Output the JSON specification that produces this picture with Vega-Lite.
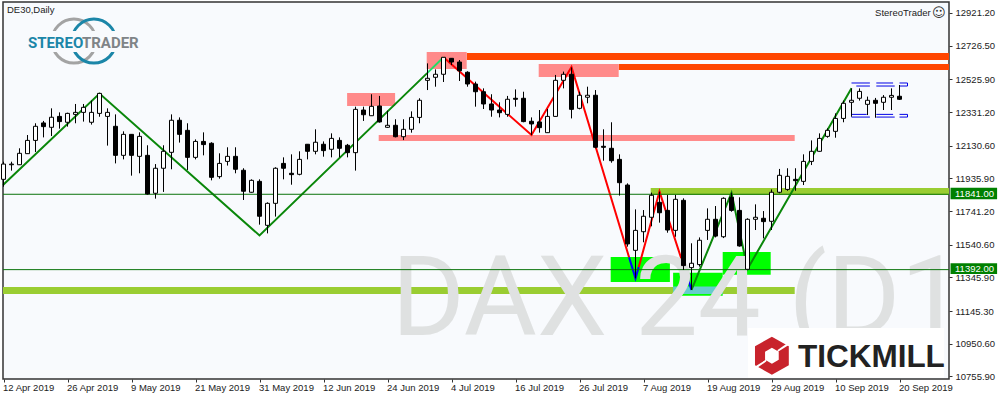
{"$schema":"https://vega.github.io/schema/vega-lite/v6.json","width":946,"height":377,"autosize":"none","padding":{"left":3,"top":2,"right":51,"bottom":21},"background":"#ffffff","view":{"fill":"#f8fafd","stroke":"#333333","strokeWidth":1.5},"config":{"font":"Liberation Sans"},
"datasets":{
"candles":[{"bar":0,"open":11930,"high":12035,"low":11886,"close":12021},{"bar":1,"open":12017,"high":12035,"low":11982,"close":12021},{"bar":2,"open":12017,"high":12115,"low":12015,"close":12085},{"bar":3,"open":12083,"high":12194,"low":12081,"close":12162},{"bar":4,"open":12162,"high":12264,"low":12093,"close":12246},{"bar":5,"open":12266,"high":12278,"low":12180,"close":12244},{"bar":6,"open":12240,"high":12353,"low":12188,"close":12300},{"bar":7,"open":12305,"high":12329,"low":12232,"close":12274},{"bar":8,"open":12270,"high":12327,"low":12244,"close":12323},{"bar":9,"open":12317,"high":12379,"low":12264,"close":12329},{"bar":10,"open":12329,"high":12379,"low":12274,"close":12359},{"bar":11,"open":12270,"high":12399,"low":12256,"close":12329},{"bar":12,"open":12323,"high":12442,"low":12303,"close":12442},{"bar":13,"open":12305,"high":12353,"low":12131,"close":12329},{"bar":14,"open":12246,"high":12317,"low":12025,"close":12073},{"bar":15,"open":12073,"high":12216,"low":12049,"close":12198},{"bar":16,"open":12198,"high":12198,"low":11952,"close":12073},{"bar":17,"open":12067,"high":12210,"low":11966,"close":12186},{"bar":18,"open":12073,"high":12133,"low":11839,"close":11843},{"bar":19,"open":11847,"high":12021,"low":11815,"close":11996},{"bar":20,"open":11996,"high":12133,"low":11855,"close":12097},{"bar":21,"open":12091,"high":12317,"low":11990,"close":12282},{"bar":22,"open":12282,"high":12299,"low":12149,"close":12198},{"bar":23,"open":12222,"high":12264,"low":11986,"close":12061},{"bar":24,"open":12061,"high":12168,"low":12049,"close":12156},{"bar":25,"open":12156,"high":12210,"low":12073,"close":12137},{"bar":26,"open":12145,"high":12151,"low":11924,"close":11942},{"bar":27,"open":11946,"high":12085,"low":11934,"close":12025},{"bar":28,"open":12037,"high":12121,"low":12012,"close":12067},{"bar":29,"open":12067,"high":12121,"low":11966,"close":11990},{"bar":30,"open":11984,"high":11996,"low":11807,"close":11859},{"bar":31,"open":11853,"high":11930,"low":11851,"close":11924},{"bar":32,"open":11918,"high":11930,"low":11660,"close":11710},{"bar":33,"open":11656,"high":11793,"low":11608,"close":11787},{"bar":34,"open":11787,"high":12002,"low":11708,"close":11996},{"bar":35,"open":12025,"high":12061,"low":11930,"close":11996},{"bar":36,"open":11966,"high":12079,"low":11898,"close":11958},{"bar":37,"open":11960,"high":12097,"low":11954,"close":12049},{"bar":38,"open":12139,"high":12139,"low":12049,"close":12097},{"bar":39,"open":12097,"high":12228,"low":12079,"close":12151},{"bar":40,"open":12139,"high":12156,"low":12065,"close":12101},{"bar":41,"open":12109,"high":12204,"low":12061,"close":12174},{"bar":42,"open":12162,"high":12180,"low":12061,"close":12115},{"bar":43,"open":12133,"high":12141,"low":12061,"close":12089},{"bar":44,"open":12089,"high":12363,"low":11982,"close":12347},{"bar":45,"open":12343,"high":12363,"low":12278,"close":12315},{"bar":46,"open":12309,"high":12437,"low":12309,"close":12365},{"bar":47,"open":12367,"high":12427,"low":12268,"close":12272},{"bar":48,"open":12240,"high":12339,"low":12236,"close":12252},{"bar":49,"open":12252,"high":12288,"low":12180,"close":12184},{"bar":50,"open":12184,"high":12288,"low":12164,"close":12228},{"bar":51,"open":12228,"high":12335,"low":12208,"close":12299},{"bar":52,"open":12299,"high":12413,"low":12264,"close":12401},{"bar":53,"open":12520,"high":12621,"low":12462,"close":12532},{"bar":54,"open":12538,"high":12585,"low":12482,"close":12556},{"bar":55,"open":12556,"high":12657,"low":12510,"close":12657},{"bar":56,"open":12651,"high":12651,"low":12611,"close":12629},{"bar":57,"open":12629,"high":12641,"low":12516,"close":12577},{"bar":58,"open":12568,"high":12574,"low":12482,"close":12498},{"bar":59,"open":12498,"high":12512,"low":12363,"close":12452},{"bar":60,"open":12452,"high":12472,"low":12349,"close":12379},{"bar":61,"open":12379,"high":12437,"low":12303,"close":12343},{"bar":62,"open":12343,"high":12389,"low":12299,"close":12327},{"bar":63,"open":12317,"high":12427,"low":12303,"close":12407},{"bar":64,"open":12413,"high":12466,"low":12363,"close":12407},{"bar":65,"open":12413,"high":12452,"low":12270,"close":12274},{"bar":66,"open":12276,"high":12299,"low":12194,"close":12260},{"bar":67,"open":12272,"high":12343,"low":12208,"close":12238},{"bar":68,"open":12208,"high":12349,"low":12208,"close":12305},{"bar":69,"open":12305,"high":12552,"low":12303,"close":12520},{"bar":70,"open":12520,"high":12572,"low":12472,"close":12556},{"bar":71,"open":12556,"high":12597,"low":12293,"close":12347},{"bar":72,"open":12353,"high":12452,"low":12347,"close":12431},{"bar":73,"open":12419,"high":12482,"low":12383,"close":12431},{"bar":74,"open":12431,"high":12462,"low":12115,"close":12121},{"bar":75,"open":12127,"high":12228,"low":12041,"close":12121},{"bar":76,"open":12115,"high":12270,"low":12029,"close":12041},{"bar":77,"open":12049,"high":12079,"low":11833,"close":11910},{"bar":78,"open":11896,"high":11906,"low":11529,"close":11545},{"bar":79,"open":11507,"high":11751,"low":11340,"close":11626},{"bar":80,"open":11618,"high":11747,"low":11555,"close":11710},{"bar":81,"open":11704,"high":11851,"low":11650,"close":11835},{"bar":82,"open":11793,"high":11857,"low":11672,"close":11731},{"bar":83,"open":11745,"high":11837,"low":11612,"close":11628},{"bar":84,"open":11626,"high":11837,"low":11588,"close":11811},{"bar":85,"open":11805,"high":11817,"low":11390,"close":11416},{"bar":86,"open":11404,"high":11549,"low":11271,"close":11430},{"bar":87,"open":11422,"high":11584,"low":11410,"close":11567},{"bar":88,"open":11626,"high":11757,"low":11569,"close":11692},{"bar":89,"open":11692,"high":11771,"low":11584,"close":11592},{"bar":90,"open":11588,"high":11823,"low":11580,"close":11817},{"bar":91,"open":11823,"high":11851,"low":11737,"close":11745},{"bar":92,"open":11745,"high":11823,"low":11529,"close":11533},{"bar":93,"open":11394,"high":11698,"low":11394,"close":11692},{"bar":94,"open":11692,"high":11781,"low":11628,"close":11704},{"bar":95,"open":11698,"high":11741,"low":11578,"close":11678},{"bar":96,"open":11680,"high":11870,"low":11628,"close":11853},{"bar":97,"open":11853,"high":11992,"low":11847,"close":11954},{"bar":98,"open":11870,"high":11996,"low":11862,"close":11948},{"bar":99,"open":11930,"high":11996,"low":11862,"close":11922},{"bar":100,"open":11918,"high":12079,"low":11896,"close":12037},{"bar":101,"open":12037,"high":12162,"low":12015,"close":12097},{"bar":102,"open":12097,"high":12204,"low":12095,"close":12174},{"bar":103,"open":12186,"high":12234,"low":12178,"close":12222},{"bar":104,"open":12216,"high":12323,"low":12178,"close":12293},{"bar":105,"open":12293,"high":12399,"low":12270,"close":12383},{"bar":106,"open":12389,"high":12472,"low":12303,"close":12401},{"bar":107,"open":12413,"high":12472,"low":12399,"close":12454},{"bar":108,"open":12377,"high":12423,"low":12313,"close":12401},{"bar":109,"open":12401,"high":12415,"low":12297,"close":12383},{"bar":110,"open":12389,"high":12432,"low":12343,"close":12419},{"bar":111,"open":12419,"high":12472,"low":12343,"close":12430},{"bar":112,"open":12425,"high":12492,"low":12403,"close":12407}],
"zones":[{"kind":"level","bar":-0.0625,"bar2":98.9,"p":11289,"p2":11247},{"kind":"level","bar":80.9,"bar2":118.1875,"p":11878,"p2":11837},{"kind":"resistance","bar":57.9,"bar2":118.1875,"p":12683,"p2":12641},{"kind":"resistance","bar":76.9,"bar2":118.1875,"p":12617,"p2":12581},{"kind":"supply","bar":42.95,"bar2":48.95,"p":12444,"p2":12367},{"kind":"supply","bar":52.9,"bar2":57.9,"p":12689,"p2":12587},{"kind":"supply","bar":66.9,"bar2":76.9,"p":12617,"p2":12540},{"kind":"supply","bar":46.9,"bar2":98.9,"p":12194,"p2":12158},{"kind":"demand","bar":75.9,"bar2":83.3,"p":11467,"p2":11318},{"kind":"demand","bar":83.7,"bar2":89.9,"p":11374,"p2":11236},{"kind":"demand","bar":89.9,"bar2":95.9,"p":11497,"p2":11362},{"kind":"overlap","bar":83.7,"bar2":89.9,"p":11291,"p2":11247}],
"zigzag":[{"seg":"a","trend":"up","bar":-0.0625,"p":11896},{"seg":"a","trend":"up","bar":12,"p":12441},{"seg":"a","trend":"up","bar":32,"p":11596},{"seg":"a","trend":"up","bar":52.96,"p":12563},{"seg":"b","trend":"upzone","bar":52.96,"p":12563},{"seg":"b","trend":"upzone","bar":55,"p":12657},{"seg":"c","trend":"down","bar":55,"p":12657},{"seg":"c","trend":"down","bar":66,"p":12194},{"seg":"c","trend":"down","bar":71,"p":12599},{"seg":"c","trend":"down","bar":78.2,"p":11465},{"seg":"d","trend":"low","bar":78.2,"p":11465},{"seg":"d","trend":"low","bar":79,"p":11340},{"seg":"d","trend":"low","bar":79.4,"p":11407},{"seg":"e","trend":"down","bar":79.4,"p":11407},{"seg":"e","trend":"down","bar":82,"p":11857},{"seg":"e","trend":"down","bar":85.2,"p":11388},{"seg":"f","trend":"low","bar":85.2,"p":11388},{"seg":"f","trend":"low","bar":86,"p":11271},{"seg":"g","trend":"up","bar":86,"p":11271},{"seg":"g","trend":"up","bar":91,"p":11850},{"seg":"g","trend":"up","bar":93,"p":11396},{"seg":"g","trend":"up","bar":106,"p":12472}],
"levels":[{"bar":-0.0625,"bar2":118.1875,"p":11841},{"bar":-0.0625,"bar2":118.1875,"p":11392}],
"tags":[{"bar":118.38,"bar2":124.2,"p":11880,"p2":11811,"mid":11845,"tag":"11841.00"},{"bar":118.38,"bar2":124.2,"p":11430,"p2":11366,"mid":11398,"tag":"11392.00"}],
"channelH":[{"bar":106,"bar2":108.3,"p":12504},{"bar":109.1,"bar2":111.2,"p":12504},{"bar":112,"bar2":113,"p":12504},{"bar":106.6,"bar2":108.3,"p":12486},{"bar":109.1,"bar2":111.4,"p":12486},{"bar":112,"bar2":113,"p":12486},{"bar":106,"bar2":107.9,"p":12317},{"bar":109.1,"bar2":111.2,"p":12317},{"bar":112,"bar2":113,"p":12317},{"bar":106,"bar2":108.3,"p":12301},{"bar":109.1,"bar2":111.4,"p":12301},{"bar":112,"bar2":113,"p":12301}],
"channelV":[{"bar":113,"p":12504,"p2":12486},{"bar":113,"p":12317,"p2":12301}]
},
"encoding":{
"x":{"field":"bar","type":"quantitative","scale":{"domain":[-0.0625,118.1875],"nice":false,"zero":false,"padding":0},"axis":{"title":null,"grid":false,"domain":false,"values":[0,8,16,24,32,40,48,56,64,72,80,88,96,104,112],"labelExpr":"['12 Apr 2019','26 Apr 2019','9 May 2019','21 May 2019','31 May 2019','12 Jun 2019','24 Jun 2019','4 Jul 2019','16 Jul 2019','26 Jul 2019','7 Aug 2019','19 Aug 2019','29 Aug 2019','10 Sep 2019','20 Sep 2019'][datum.value/8]","labelAlign":"left","labelOverlap":false,"labelBound":false,"labelFlush":false,"labelFont":"Liberation Sans","labelFontSize":9.5,"labelColor":"#222222","labelPadding":0,"tickColor":"#333333","tickSize":3,"ticks":true,"labelOffset":-1}},
"y":{"field":"p","type":"quantitative","scale":{"domain":[10740.4,12986.6],"nice":false,"zero":false},"axis":{"title":null,"orient":"right","grid":false,"domain":false,"values":[12921.2,12726.5,12525.9,12331.2,12130.6,11935.9,11741.2,11540.6,11345.9,11145.3,10950.6,10755.9],"format":".2f","labelOverlap":false,"labelBound":false,"labelFlush":false,"labelFont":"Liberation Sans","labelFontSize":9.5,"labelColor":"#222222","labelPadding":3,"tickColor":"#333333","tickSize":3}}
},
"layer":[
{"data":{"name":"zones"},"mark":{"type":"rect"},"encoding":{"x2":{"field":"bar2"},"y2":{"field":"p2"},"color":{"field":"kind","type":"nominal","legend":null,"scale":{"domain":["level","resistance","supply","demand","overlap"],"range":["#9acd32","#ff4500","#ff8a8a","#00ff00","#66cccc"]}}}},
{"data":{"name":"zigzag"},"mark":{"type":"line","strokeWidth":2,"interpolate":"linear"},"encoding":{"detail":{"field":"seg"},"order":{"field":"bar","type":"quantitative"},"stroke":{"field":"trend","type":"nominal","legend":null,"scale":{"domain":["up","upzone","down","low"],"range":["#0a870a","#22dd66","#ff0000","#0000ff"]}}}},
{"data":{"values":[{"bar":48.5,"p":11003,"t":"DAX 24 (D1"}]},"mark":{"type":"text","font":"Roboto","fontSize":112,"align":"left","baseline":"alphabetic","color":"#dfe1e1","clip":true},"encoding":{"text":{"field":"t"}}},
{"data":{"name":"levels"},"mark":{"type":"rule","stroke":"#0b730b","strokeWidth":1},"encoding":{"x2":{"field":"bar2"}}},
{"data":{"name":"channelH"},"mark":{"type":"rule","stroke":"#0000e6","strokeWidth":1},"encoding":{"x2":{"field":"bar2"}}},
{"data":{"name":"channelV"},"mark":{"type":"rule","stroke":"#0000e6","strokeWidth":1},"encoding":{"y2":{"field":"p2"}}},
{"data":{"name":"candles"},"mark":{"type":"rule","stroke":"#000000","strokeWidth":1},"encoding":{"y":{"field":"high","type":"quantitative","scale":{"domain":[10740.4,12986.6],"nice":false,"zero":false}},"y2":{"field":"low"}}},
{"data":{"name":"candles"},"mark":{"type":"bar","width":4,"stroke":"#000000","strokeWidth":1},"encoding":{"y":{"field":"open","type":"quantitative","scale":{"domain":[10740.4,12986.6],"nice":false,"zero":false}},"y2":{"field":"close"},"fill":{"condition":{"test":"datum.close>=datum.open","value":"#ffffff"},"value":"#000000"}}},
{"data":{"values":[{"bar":8.8,"p":12754}]},"mark":{"type":"point","shape":"circle","size":1936,"filled":false,"stroke":"#a3a3a3","strokeWidth":3,"opacity":1}},
{"data":{"values":[{"bar":11.3,"p":12754}]},"mark":{"type":"point","shape":"circle","size":1936,"filled":false,"stroke":"#1b86a8","strokeWidth":3,"opacity":1}},
{"data":{"values":[{"bar":2.67,"bar2":17.05,"p":12814,"p2":12689}]},"mark":{"type":"rect","fill":"#f8fafd"},"encoding":{"x2":{"field":"bar2"},"y2":{"field":"p2"}}},
{"data":{"values":[{"bar":3.05,"p":12710,"t":"STEREO"}]},"mark":{"type":"text","font":"Roboto","fontWeight":"bold","fontSize":15,"align":"left","baseline":"alphabetic","color":"#1b86a8"},"encoding":{"text":{"field":"t"}}},
{"data":{"values":[{"bar":9.8,"p":12710,"t":"TRADER"}]},"mark":{"type":"text","font":"Roboto","fontWeight":"bold","fontSize":15,"align":"left","baseline":"alphabetic","color":"#7f8487"},"encoding":{"text":{"field":"t"}}},
{"data":{"values":[{"bar":0.43,"p":12939,"t":"DE30,Daily"}]},"mark":{"type":"text","fontSize":9.5,"align":"left","baseline":"middle","color":"#222222"},"encoding":{"text":{"field":"t"}}},
{"data":{"values":[{"bar":115.9,"p":12924,"t":"StereoTrader"}]},"mark":{"type":"text","fontSize":9.5,"align":"right","baseline":"middle","color":"#222222"},"encoding":{"text":{"field":"t"}}},
{"data":{"values":[{"bar":116.9,"p":12924,"t":"☺"}]},"mark":{"type":"text","font":"DejaVu Sans","fontSize":13,"align":"center","baseline":"middle","color":"#333333"},"encoding":{"text":{"field":"t"}}},
{"data":{"values":[{"bar":93.05,"bar2":117.55,"p":11044,"p2":10748}]},"mark":{"type":"rect","fill":"#ffffff"},"encoding":{"x2":{"field":"bar2"},"y2":{"field":"p2"}}},
{"data":{"values":[{"bar":96.05,"p":10879}]},"mark":{"type":"point","shape":"M0,-1L.89,-.5L.89,.5L0,1L-.89,.5L-.89,-.5Z","size":1444,"filled":true,"fill":"#c8232c","stroke":null,"opacity":1}},
{"data":{"values":[{"bar":96.05,"p":10879}]},"mark":{"type":"point","shape":"M0,-.42L.36,-.21L.36,.21L0,.42L-.36,.21L-.36,-.21ZM.95,-.6L.3,-.2L.3,-.3L.9,-.72ZM-.95,.6L-.3,.2L-.3,.3L-.9,.72Z","size":1444,"filled":true,"fill":"#ffffff","stroke":null,"opacity":1}},
{"data":{"values":[{"bar":99.3,"p":10814,"t":"TICKMILL"}]},"mark":{"type":"text","font":"Liberation Sans","fontWeight":"bold","fontSize":31.5,"align":"left","baseline":"alphabetic","color":"#222222"},"encoding":{"text":{"field":"t"}}},
{"data":{"name":"tags"},"mark":{"type":"rect","fill":"#008000"},"encoding":{"x2":{"field":"bar2"},"y2":{"field":"p2"}}},
{"data":{"name":"tags"},"mark":{"type":"text","fontSize":9.5,"align":"left","baseline":"middle","color":"#ffffff"},"encoding":{"y":{"field":"mid","type":"quantitative","scale":{"domain":[10740.4,12986.6],"nice":false,"zero":false}},"text":{"field":"tag"},"xOffset":{"value":4.5}}}
]}
